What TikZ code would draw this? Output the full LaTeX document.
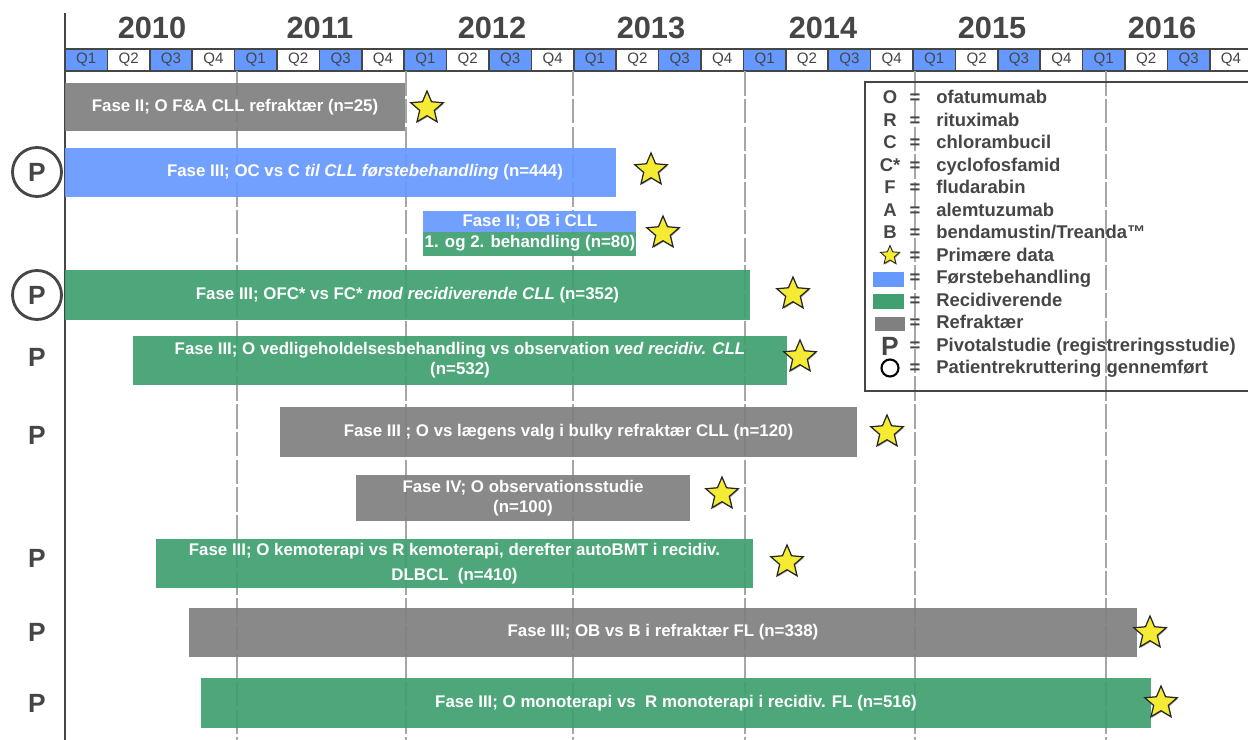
\documentclass[tikz,border=0pt]{standalone}
\usepackage{fontspec}
\setmainfont{Liberation Sans}
\usepackage{tikz}
\usetikzlibrary{shapes,fit,positioning,shadows}
\definecolor{forst}{RGB}{102,153,255}
\definecolor{recid}{RGB}{64,160,112}
\definecolor{refr}{RGB}{128,128,128}
\definecolor{tekst}{RGB}{70,70,70}
\definecolor{stjernegul}{RGB}{245,235,50}

\begin{document}
\begin{tikzpicture}[x=0.02cm,y=-0.02cm,
	bar/.style={inner sep=0pt,outer sep=0pt,fill opacity=0.93},
	bartxt/.style={text=white,font=\fontsize{9.6}{11.3}\selectfont\bfseries,align=center,inner sep=0pt},
	stjerne/.style={star,star points=5,star point ratio=2.2,fill=stjernegul,draw=black!85,line width=0.7pt,minimum size=0.68cm,inner sep=0pt,drop shadow={shadow xshift=0.5pt,shadow yshift=-0.6pt,fill=black!70}},
	pivot/.style={text=tekst,font=\fontsize{15}{15}\selectfont\bfseries,inner sep=0pt},
	ring/.style={pivot,circle,draw=tekst,line width=1.6pt,minimum size=0.98cm},
	kvartal/.style={draw=tekst,line width=0.9pt,minimum width=0.848cm,minimum height=0.44cm,inner sep=0pt,font=\fontsize{8.6}{8.6}\selectfont,text=tekst},
	aar/.style={text=tekst,font=\fontsize{17.5}{17.5}\selectfont\bfseries,inner sep=0pt},
	grid/.style={black!35,line width=0.8pt,dash pattern=on 14pt off 1.8pt},
	legtxt/.style={anchor=west,text=tekst,font=\fontsize{10.5}{10.5}\selectfont\bfseries,inner sep=0pt,text height=1.6ex,text depth=0.4ex},
	legsym/.style={legtxt,anchor=center}]
	\useasboundingbox (0,0) rectangle (1248,740);
	\clip (0,0) rectangle (1248,740);
	% tidslinje
	\foreach \x/\aar in {152/2010,320/2011,492/2012,651/2013,823/2014,992/2015,1162/2016}
		\node[aar](y\aar) at (\x,28){\aar};
	\foreach \k in {0,...,27}{
		\pgfmathtruncatemacro{\q}{mod(\k,4)+1}
		\ifodd\q \def\kfarve{forst}\else \def\kfarve{white}\fi
		\node[kvartal,fill=\kfarve](q\k) at ({86.2+42.4*\k},60){Q\q};
	}
	\foreach \x in {237,406,573,745,915,1106}
		\draw[grid] (\x,71) -- (\x,740);
	\draw[tekst,line width=1.2pt] (65,13) -- (65,740);
	% studier
	\node[bar,fill=refr,fit={(65,83)(405,131)}](fase1){};
	\node[bartxt] at (fase1.center){Fase II; O F\&A CLL refraktær (n=25)};
	\node[bar,fill=forst,fit={(65,148)(616,197)}](fase2){};
	\node[bartxt] at (365,172){Fase III; OC vs C \textit{til CLL førstebehandling} (n=444)};
	\node[bar,fill=forst,fit={(423,211)(636,232)}](fase3a){};
	\node[bar,fill=recid,fit={(423,232)(636,256)}](fase3b){};
	\node[bartxt] at (530,222){Fase II; OB i CLL};
	\node[bartxt] at (530,243){1. og 2. behandling (n=80)};
	\node[bar,fill=recid,fit={(65,270)(750,320)}](fase4){};
	\node[bartxt] at (fase4.center){Fase III; OFC* vs FC* \textit{mod recidiverende CLL} (n=352)};
	\node[bar,fill=recid,fit={(133,336)(787,385)}](fase5){};
	\node[bartxt] at (fase5.center){Fase III; O vedligeholdelsesbehandling vs observation \textit{ved recidiv. CLL}\\(n=532)};
	\node[bar,fill=refr,fit={(280,407)(857,457)}](fase6){};
	\node[bartxt] at (fase6.center){Fase III ; O vs lægens valg i bulky refraktær CLL (n=120)};
	\node[bar,fill=refr,fit={(356,475)(690,521)}](fase7){};
	\node[bartxt] at (fase7.center){Fase IV; O observationsstudie\\(n=100)};
	\node[bar,fill=recid,fit={(156,539)(753,588)}](fase8){};
	\node[bartxt] at (fase8.center){Fase III; O kemoterapi vs R kemoterapi, derefter autoBMT i recidiv.\\[2.8pt]DLBCL\ \ (n=410)};
	\node[bar,fill=refr,fit={(189,608)(1137,657)}](fase9){};
	\node[bartxt] at (fase9.center){Fase III; OB vs B i refraktær FL (n=338)};
	\node[bar,fill=recid,fit={(201,678)(1151,728)}](fase10){};
	\node[bartxt] at (fase10.center){Fase III; O monoterapi vs\ \ R monoterapi i recidiv. FL (n=516)};
	% primære data
	\foreach \x/\y [count=\i] in {427/108,651/170,663/233,793/294,800/357,887/432,722/494,787/562,1150/633,1161/703}
		\node[stjerne](s\i) at (\x,\y){};
	% pivotalstudier
	\node[ring](p2) at (37,172){P};
	\node[ring](p4) at (37,295){P};
	\foreach \y/\n in {357/5,435/6,558/8,632/9,703/10}
		\node[pivot](p\n) at (37,\y){P};
	% forklaring
	\draw[tekst,line width=1.6pt] (865,82) rectangle (1262,391);
	\foreach \sym/\navn [count=\i from 0] in {O/ofatumumab,R/rituximab,C/chlorambucil,C*/cyclofosfamid,F/fludarabin,A/alemtuzumab,B/bendamustin\slash Treanda™}
		\node[legsym](l\i) at (890,98+22.5*\i){\sym};
	\foreach \navn [count=\i from 0] in {ofatumumab,rituximab,chlorambucil,cyclofosfamid,fludarabin,alemtuzumab,bendamustin\slash Treanda™,Primære data,Førstebehandling,Recidiverende,Refraktær,Pivotalstudie (registreringsstudie),Patientrekruttering gennemført}{
		\node[legsym] at (915,98+22.5*\i){=};
		\node[legtxt](t\i) at (936,98+22.5*\i){\navn};
	}
	\node[stjerne,minimum size=0.4cm,line width=0.5pt](l7) at (890,255.5){};
	\fill[forst] (873,272) rectangle (904,287);
	\fill[recid] (873,294) rectangle (904,309);
	\fill[refr] (875,317) rectangle (905,331);
	\node[pivot,font=\fontsize{15}{15}\selectfont\bfseries](l11) at (890,346){P};
	\node[circle,draw=black,line width=1.2pt,minimum size=0.34cm,inner sep=0pt](l12) at (890,368){};
\end{tikzpicture}
\end{document}
